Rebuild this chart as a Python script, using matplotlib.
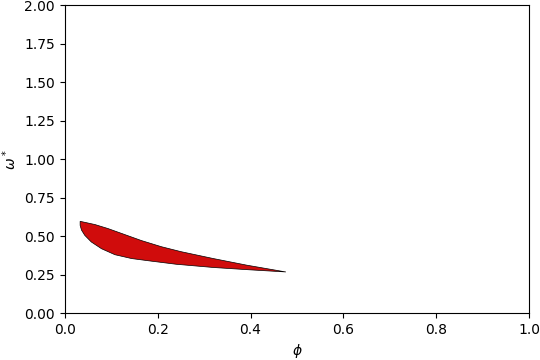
import matplotlib
matplotlib.use('Agg')
import matplotlib.pyplot as plt

# upper and lower boundary of the stable region
phi_upper = [0.033, 0.065, 0.093, 0.129, 0.165, 0.208, 0.250, 0.320, 0.392, 0.476]
omega_upper = [0.597, 0.576, 0.550, 0.511, 0.472, 0.432, 0.400, 0.355, 0.312, 0.268]
phi_lower = [0.033, 0.036, 0.043, 0.057, 0.079, 0.108, 0.144, 0.187, 0.240, 0.320, 0.392, 0.476]
omega_lower = [0.571, 0.540, 0.506, 0.463, 0.419, 0.380, 0.355, 0.338, 0.318, 0.297, 0.283, 0.268]

fig = plt.figure(figsize=(5.4, 3.6), dpi=100)
ax = fig.add_axes([0.12, 0.13, 0.86, 0.855])

xs = phi_upper + phi_lower[::-1]
ys = omega_upper + omega_lower[::-1]
ax.fill(xs, ys, facecolor='#d00c0c', edgecolor='black', linewidth=0.5)

ax.set_xlim(0, 1)
ax.set_ylim(0, 2)
ax.set_yticks([0, 0.25, 0.5, 0.75, 1.0, 1.25, 1.5, 1.75, 2.0])
ax.set_xlabel(r'$\phi$')
ax.set_ylabel(r'$\omega^*$')

fig.savefig('out.png', dpi=100)
